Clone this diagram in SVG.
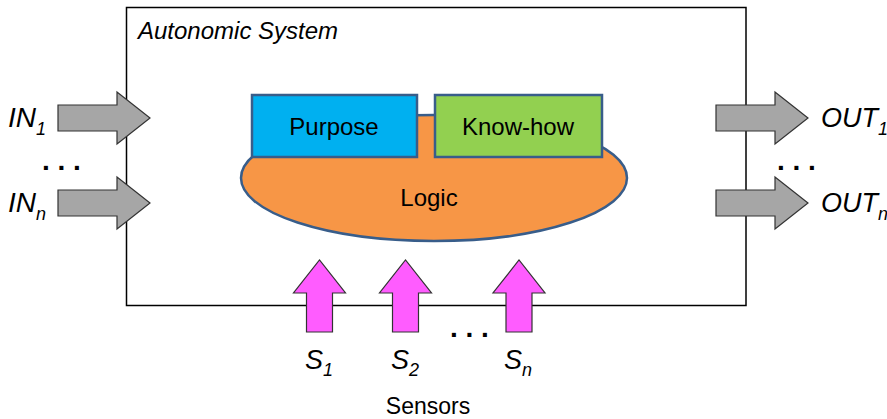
<svg xmlns="http://www.w3.org/2000/svg" width="887" height="419" viewBox="0 0 887 419">
  <style>
    .lbl { font-family: "Liberation Sans", Arial, sans-serif; fill: #000; }
    .it { font-style: italic; }
    .dots { font-family: "Liberation Sans", Arial, sans-serif; font-weight: bold; font-size: 28px; fill: #000; }
    .box { fill: #fff; stroke: #000; stroke-width: 1.5; }
    .shape { stroke: #385D8A; stroke-width: 2.5; }
    .io { fill: #A6A6A6; stroke: #333; stroke-width: 1.2; stroke-linejoin: miter; }
    .sensor { fill: #FF5CFF; stroke: #333; stroke-width: 1.2; }
  </style>
  <defs>
    <!-- block arrow pointing right, origin at tail middle -->
    <path id="arrowRight" d="M0,-13 H59 V-26 L92,0 L59,26 V13 H0 Z"/>
    <!-- block arrow pointing up, origin at tail middle -->
    <path id="arrowUp" d="M-13,0 V-39 H-26 L0,-72 L26,-39 H13 V0 Z"/>
  </defs>

  <!-- system boundary -->
  <g id="system">
    <rect class="box" x="126.5" y="7.5" width="619.5" height="298"/>
    <text class="lbl it" x="138" y="39" font-size="24">Autonomic System</text>
  </g>

  <!-- logic core -->
  <g id="logic">
    <ellipse class="shape" cx="434" cy="178" rx="193" ry="63" fill="#F79646"/>
    <text class="lbl" x="429" y="206" font-size="24" text-anchor="middle">Logic</text>
  </g>
  <g id="purpose">
    <rect class="shape" x="252" y="95" width="165" height="62" fill="#00B0F0"/>
    <text class="lbl" x="334" y="135" font-size="24" text-anchor="middle">Purpose</text>
  </g>
  <g id="knowhow">
    <rect class="shape" x="435" y="95" width="167" height="62" fill="#92D050"/>
    <text class="lbl" x="518" y="135" font-size="24" text-anchor="middle">Know-how</text>
  </g>

  <!-- inputs, outputs and sensors -->
  <g id="connectors">
    <use href="#arrowRight" class="io" x="58" y="118"/>
    <use href="#arrowRight" class="io" x="58" y="203"/>
    <use href="#arrowRight" class="io" x="716" y="118"/>
    <use href="#arrowRight" class="io" x="716" y="203"/>
    <use href="#arrowUp" class="sensor" x="319.5" y="332"/>
    <use href="#arrowUp" class="sensor" x="405.5" y="332"/>
    <use href="#arrowUp" class="sensor" x="519" y="332"/>
  </g>

  <g id="inputs">
    <text class="lbl it" x="8" y="127" font-size="28">IN<tspan font-size="18" dy="8">1</tspan></text>
    <text class="dots" x="42" y="170">. . .</text>
    <text class="lbl it" x="8" y="212" font-size="28">IN<tspan font-size="18" dy="8">n</tspan></text>
  </g>
  <g id="outputs">
    <text class="lbl it" x="821" y="127" font-size="27">OUT<tspan font-size="18" dy="8">1</tspan></text>
    <text class="dots" x="777" y="170">. . .</text>
    <text class="lbl it" x="821" y="212" font-size="27">OUT<tspan font-size="18" dy="8">n</tspan></text>
  </g>
  <g id="sensors">
    <text class="lbl it" x="305" y="369" font-size="27">S<tspan font-size="18" dy="7">1</tspan></text>
    <text class="lbl it" x="391" y="369" font-size="27">S<tspan font-size="18" dy="7">2</tspan></text>
    <text class="dots" x="450" y="337">. . .</text>
    <text class="lbl it" x="504" y="369" font-size="27">S<tspan font-size="18" dy="7">n</tspan></text>
    <text class="lbl" x="428" y="414" font-size="23" text-anchor="middle">Sensors</text>
  </g>
</svg>
